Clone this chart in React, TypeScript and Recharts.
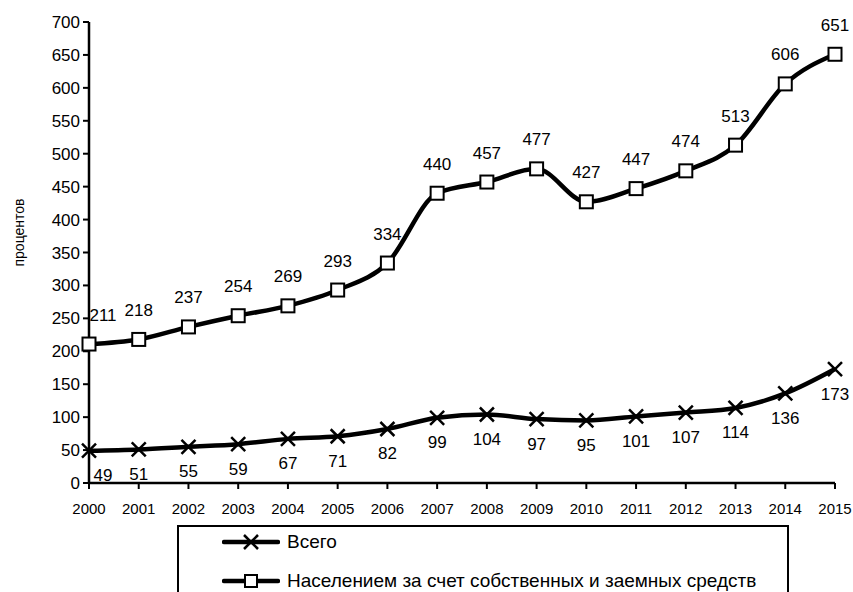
import React from 'react';
import {
  LineChart,
  Line,
  XAxis,
  YAxis,
  LabelList,
  Label,
} from 'recharts';

const years = [
  '2000', '2001', '2002', '2003', '2004', '2005', '2006', '2007',
  '2008', '2009', '2010', '2011', '2012', '2013', '2014', '2015',
];
const totalValues = [49, 51, 55, 59, 67, 71, 82, 99, 104, 97, 95, 101, 107, 114, 136, 173];
const populationValues = [211, 218, 237, 254, 269, 293, 334, 440, 457, 477, 427, 447, 474, 513, 606, 651];
const yTicks = [0, 50, 100, 150, 200, 250, 300, 350, 400, 450, 500, 550, 600, 650, 700];

const totalName = 'Всего';
const populationName = 'Населением за счет собственных и заемных средств';

const data = years.map((year, i) => ({
  year,
  total: totalValues[i],
  population: populationValues[i],
}));

const FONT = '"Liberation Sans", Arial, sans-serif';

const CrossDot = (props: any) => {
  const { cx, cy } = props;
  if (cx == null || cy == null) return null;
  const s = 7;
  return (
    <g>
      <line x1={cx - s} y1={cy - s} x2={cx + s} y2={cy + s} stroke="#000" strokeWidth={2.5} />
      <line x1={cx - s} y1={cy + s} x2={cx + s} y2={cy - s} stroke="#000" strokeWidth={2.5} />
    </g>
  );
};

const SquareDot = (props: any) => {
  const { cx, cy } = props;
  if (cx == null || cy == null) return null;
  return (
    <rect x={cx - 6.5} y={cy - 6.5} width={13} height={13} fill="#fff" stroke="#000" strokeWidth={2} />
  );
};

const makeLabel = (dy: number) => (props: any) => {
  const { x, y, value, index } = props;
  const dx = index === 0 ? 14 : 0;
  return (
    <text
      x={x + dx}
      y={y + dy}
      textAnchor="middle"
      dominantBaseline="central"
      fontFamily={FONT}
      fontSize={17}
      fill="#000"
    >
      {value}
    </text>
  );
};

const AxisTitle = (props: any) => {
  const { viewBox } = props;
  const x = 19;
  const y = viewBox.y + viewBox.height / 2 - 20;
  return (
    <text
      x={x}
      y={y}
      transform={`rotate(-90, ${x}, ${y})`}
      textAnchor="middle"
      dominantBaseline="central"
      fontFamily={FONT}
      fontSize={14}
      fill="#000"
    >
      процентов
    </text>
  );
};

function LegendBox() {
  const row = (marker: React.ReactNode, text: string, top: number) => (
    <div style={{ position: 'absolute', left: 43, top, height: 22, display: 'flex', alignItems: 'center' }}>
      <svg width={58} height={20}>
        <line x1={2} y1={10} x2={56} y2={10} stroke="#000" strokeWidth={4.5} strokeLinecap="round" />
        {marker}
      </svg>
      <span style={{ marginLeft: 7, fontFamily: FONT, fontSize: 19, color: '#000', whiteSpace: 'nowrap' }}>
        {text}
      </span>
    </div>
  );
  return (
    <div
      style={{
        position: 'absolute',
        left: 177,
        top: 525,
        width: 608,
        height: 80,
        border: '2px solid #000',
        background: '#fff',
      }}
    >
      {row(
        <g>
          <line x1={22} y1={3} x2={36} y2={17} stroke="#000" strokeWidth={2.5} />
          <line x1={22} y1={17} x2={36} y2={3} stroke="#000" strokeWidth={2.5} />
        </g>,
        totalName,
        4
      )}
      {row(
        <rect x={23} y={4} width={12} height={12} fill="#fff" stroke="#000" strokeWidth={2} />,
        populationName,
        43
      )}
    </div>
  );
}

export default function App() {
  return (
    <div
      style={{
        position: 'absolute',
        left: 0,
        top: 0,
        width: 853,
        height: 592,
        overflow: 'hidden',
        background: '#fff',
      }}
    >
      <LineChart
        width={853}
        height={592}
        data={data}
        margin={{ top: 22, right: 18, left: 0, bottom: 79 }}
      >
        <XAxis
          dataKey="year"
          height={30}
          padding={{ left: 0, right: 0 }}
          tick={{ fill: '#000', fontSize: 15, fontFamily: FONT }}
          axisLine={{ stroke: '#000', strokeWidth: 2.5 }}
          tickLine={{ stroke: '#000', strokeWidth: 2 }}
          tickSize={6}
          tickMargin={14}
          interval={0}
        />
        <YAxis
          width={89}
          domain={[0, 700]}
          ticks={yTicks}
          interval={0}
          tick={{ fill: '#000', fontSize: 17, fontFamily: FONT }}
          axisLine={{ stroke: '#000', strokeWidth: 2.5 }}
          tickLine={{ stroke: '#000', strokeWidth: 2 }}
          tickSize={6}
          tickMargin={3}
        >
          <Label content={<AxisTitle />} />
        </YAxis>
        <Line
          type="monotone"
          dataKey="total"
          name={totalName}
          stroke="#000"
          strokeWidth={4.5}
          dot={<CrossDot />}
          activeDot={false}
          isAnimationActive={false}
        >
          <LabelList dataKey="total" content={makeLabel(25)} />
        </Line>
        <Line
          type="monotone"
          dataKey="population"
          name={populationName}
          stroke="#000"
          strokeWidth={4.5}
          dot={<SquareDot />}
          activeDot={false}
          isAnimationActive={false}
        >
          <LabelList dataKey="population" content={makeLabel(-29)} />
        </Line>
      </LineChart>
      <LegendBox />
    </div>
  );
}
